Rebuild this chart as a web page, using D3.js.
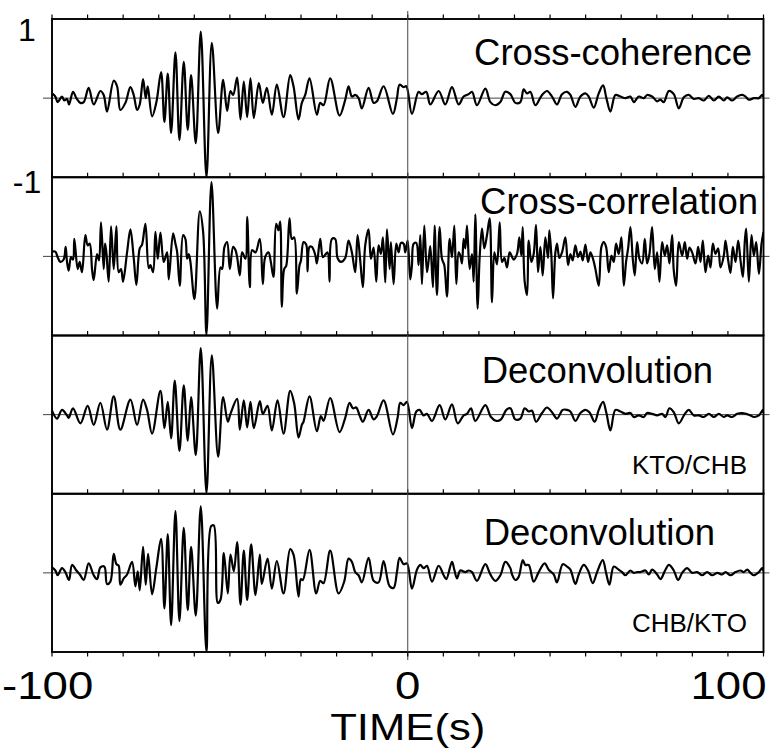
<!DOCTYPE html>
<html>
<head>
<meta charset="utf-8">
<script src="https://cdn.jsdelivr.net/npm/d3@7"></script>
<style>
  body { margin: 0; background: #fff; }
  svg text { font-family: "Liberation Sans", Arial, sans-serif; fill: #000; }
</style>
</head>
<body>
<div class="chart"></div>
<script>
// time (s), normalised amplitude
const crossCoherence = [
  [-100,0.06],[-99.06,0.02],[-98.41,-0.05],[-97.19,0.02],[-96.53,-0.03],[-95.78,-0.01],[-95.22,-0.08],[-94.09,0.08],[-93.15,0],[-92.03,-0.06],[-91.09,-0.05],[-89.69,0.13],[-88.28,-0.08],[-86.4,0.09],[-85.47,0.04],[-84.53,-0.17],[-82.65,0.22],[-81.71,0.15],[-80.78,-0.15],[-79.37,-0.06],[-77.96,0.14],[-77.03,0.04],[-76.09,-0.15],[-75.34,-0.08],[-74.4,0.24],[-73.65,0],[-73.09,0.15],[-71.87,-0.23],[-70.65,-0.05],[-69.34,0.33],[-68.4,-0.3],[-67.46,0.31],[-66.52,-0.44],[-65.3,0.58],[-64.18,-0.53],[-62.96,0.46],[-61.84,-0.4],[-60.9,0.29],[-59.59,-0.57],[-58.18,0.84],[-56.58,-1.0],[-55.08,0.7],[-53.3,-0.44],[-51.89,0.23],[-50.77,-0.16],[-49.83,0.09],[-49.08,0.04],[-47.96,0.26],[-47.02,-0.27],[-46.08,0.21],[-45.14,-0.24],[-44.21,0.25],[-43.27,-0.25],[-41.86,0.19],
  [-40.74,-0.06],[-39.61,0.13],[-38.2,-0.21],[-36.8,0.17],[-34.92,-0.24],[-33.05,0.29],[-32.11,0.15],[-30.7,-0.27],[-29.77,-0.06],[-28.83,0.04],[-27.61,0.25],[-25.55,-0.21],[-24.61,-0.06],[-23.67,-0.09],[-21.8,0.25],[-19.17,-0.22],[-17.57,-0.02],[-16.64,0.15],[-15.7,0.02],[-14.76,0.04],[-13.82,0],[-12.89,-0.13],[-11.01,0.13],[-9.6,-0.06],[-8.67,-0.04],[-6.79,0.15],[-4.17,-0.2],[-3.04,0],[-2.29,0.17],[-1.17,0.14],[-0.42,0.15],[1.18,-0.2],[3.05,0.08],[3.99,0.05],[5.21,0.08],[6.34,-0.08],[8.68,0.09],[10.56,-0.08],[12.43,0.14],[14.31,-0.08],[15.71,0.02],[17.12,0.05],[18.06,0.08],[19.46,-0.09],[21.81,0.12],[23.22,-0.05],[24.62,-0.09],[26.03,-0.05],[27.43,0.08],[28.84,0.05],
  [30.24,-0.06],[31.65,-0.05],[32.59,0.11],[33.52,0.06],[34.46,0.08],[35.87,-0.09],[37.74,0.04],[39.15,0.09],[40.56,0.02],[41.96,-0.08],[43.37,0.05],[44.78,0.08],[45.72,0.04],[47.12,-0.11],[48.53,0.02],[49.93,0.06],[50.87,0.02],[52.28,-0.12],[53.69,0.06],[54.9,0.16],[55.84,0],[56.97,-0.17],[58.37,0.04],[59.78,0.02],[61.19,0],[62.59,0.02],[63.53,-0.05],[64.94,0.02],[66.35,0],[67.28,0.04],[68.69,0.02],[70.1,-0.04],[71.03,-0.02],[71.97,-0.05],[73.38,0.09],[74.78,0.05],[76.19,-0.13],[77.6,0.01],[79,0.04],[80.41,-0.01],[81.82,0],[83.22,-0.03],[84.63,0.03],[86.04,-0.03],[87.44,0.02],[88.85,-0.03],[89.79,0.01],[91.19,-0.03],[92.6,0.02],[94.01,0.04],[94.95,0.02],[95.89,-0.02],[97.29,0],[98.7,0],[99.64,0.04],[100,0.01]
];

const crossCorrelation = [
  [-100,0.06],[-99.06,0.06],[-98.41,-0.01],[-97.66,-0.07],[-96.72,-0.04],[-96.16,0.12],[-95.78,-0.07],[-95.31,-0.18],[-94.66,-0.01],[-94.09,-0.04],[-93.72,0.22],[-92.78,-0.16],[-92.22,-0.07],[-91.56,-0.2],[-90.62,0.27],[-89.97,0.14],[-89.4,0.16],[-88.75,-0.16],[-88.28,-0.3],[-87.34,0.03],[-86.78,-0.05],[-86.22,0.43],[-85.47,-0.16],[-85.09,0.16],[-84.72,0.05],[-84.06,-0.32],[-83.4,0.38],[-82.65,-0.16],[-81.9,0.38],[-81.25,-0.2],[-80.59,-0.16],[-80.03,-0.32],[-78.9,0.05],[-77.96,0.34],[-77.03,-0.02],[-76.28,-0.36],[-75.34,0.1],[-74.68,0.15],[-73.74,0.41],[-72.81,-0.15],[-72.34,-0.11],[-71.59,-0.2],[-70.93,0.31],[-70.27,-0.03],[-69.52,0.3],[-68.59,-0.07],[-67.65,0.05],[-67.18,-0.29],[-65.96,0.29],[-65.3,0.16],[-64.84,0.06],[-64.09,-0.37],[-63.15,0.27],[-62.49,0.22],[-62.02,-0.03],[-61.55,0.03],[-61.09,-0.07],[-59.96,-0.54],[-58.46,0.57],[-57.52,0.31],[-56.58,-0.99],[-55.18,0.94],[-53.58,-0.66],[-52.65,-0.14],[-52.18,-0.16],[-51.52,0.12],[-50.77,0.18],[-50.02,-0.16],[-49.08,0.12],[-48.43,0.08],[-47.96,-0.01],[-47.21,-0.24],[-46.55,0.05],[-45.61,-0.03],[-45.14,0.5],[-44.39,-0.39],[-43.74,0.08],[-42.8,0.05],[-41.58,0.22],
  [-40.74,-0.35],[-40.08,-0.01],[-39.14,0.05],[-38.49,-0.07],[-37.74,-0.26],[-36.99,0.41],[-36.33,0.33],[-35.86,0.44],[-35.39,-0.64],[-34.74,-0.16],[-34.17,-0.12],[-33.24,0.48],[-32.58,0.22],[-31.92,0.24],[-31.17,-0.47],[-30.42,-0.11],[-30.05,-0.06],[-29.3,0.18],[-28.55,0.15],[-28.17,-0.19],[-27.61,0.12],[-26.95,0.12],[-26.01,0.02],[-25.55,-0.09],[-24.61,0.22],[-23.86,-0.01],[-23.2,0.02],[-22.54,0.05],[-21.98,-0.32],[-21.33,0.22],[-20.39,0.22],[-19.73,-0.02],[-18.79,-0.07],[-17.58,-0.02],[-16.64,0.2],[-15.7,0.05],[-14.76,-0.2],[-14.11,0.27],[-13.36,-0.05],[-12.61,-0.39],[-11.95,0.14],[-11.01,0.34],[-10.36,-0.03],[-9.6,0.11],[-8.85,-0.32],[-8.2,0.14],[-7.54,0.03],[-6.98,0.24],[-6.32,-0.33],[-5.85,0.34],[-5.1,-0.16],[-4.73,0.18],[-3.98,-0.35],[-3.23,0.16],[-2.57,0.05],[-1.92,0.17],[-1.17,0.16],[-0.7,0.05],[-0.04,0.2],[0.71,-0.29],[1.18,-0.11],[1.65,0.16],[2.4,0.17],[3.05,-0.11],[3.52,0.27],[3.99,-0.35],[4.65,0.39],[5.4,-0.2],[5.87,-0.05],[6.34,0.13],[7.09,-0.39],[7.55,0.39],[8.21,-0.49],[8.96,0.37],[9.62,-0.03],[10.27,-0.11],[11.02,-0.51],[11.77,0.22],[12.43,-0.01],[13.09,0.39],[13.65,-0.35],[14.31,0.05],[14.78,0.01],[15.24,-0.09],[15.71,0.22],[16.18,0.1],[16.65,0.39],[17.4,-0.16],[18.06,0.03],[18.53,-0.32],[18.99,0.53],[19.65,-0.66],[20.21,-0.01],[20.87,0.35],[21.53,0.1],[22.28,0.27],[23.03,0.48],[23.68,-0.58],[24.34,0.05],[25.09,-0.1],[25.84,0.43],[26.5,-0.07],[27.15,-0.02],[27.9,-0.14],[28.65,0.05],
  [29.77,-0.04],[30.71,0.03],[31.37,0.24],[31.93,0.01],[32.31,0.37],[32.87,-0.32],[33.53,-0.49],[34,0.2],[34.74,-0.07],[35.4,0.03],[36.06,0.4],[36.62,-0.2],[37.28,0.12],[37.93,-0.24],[38.68,0.24],[39.43,-0.02],[39.81,0.33],[40.37,0.01],[40.84,-0.53],[41.5,0.05],[41.96,0.16],[42.62,-0.02],[43.37,0.05],[44.31,0.24],[45.06,-0.11],[45.72,0.03],[46.37,-0.05],[47.12,0.14],[47.87,-0.01],[48.53,0.06],[49.19,-0.05],[49.93,0.15],[50.69,-0.07],[51.34,0.05],[52,-0.02],[52.75,-0.16],[53.69,-0.37],[54.44,0.12],[55.09,0.18],[55.75,0.12],[56.5,-0.2],[57.25,0.01],[57.91,-0.07],[58.56,0.16],[59.31,0.03],[60.06,0.24],[60.72,-0.37],[61.37,-0.07],[61.94,0.1],[62.59,0.37],[63.25,-0.03],[63.81,-0.24],[64.47,0.18],[65.13,-0.03],[65.88,-0.09],[66.63,0.22],[67.28,-0.09],[67.94,0.03],[68.69,0.37],[69.44,-0.16],[70.1,0.05],[70.75,-0.32],[71.5,0.18],[72.25,0.01],[72.91,0.14],[73.56,-0.09],[74.32,0.27],[74.78,-0.18],[75.44,-0.37],[76.19,0.18],[77.13,0.01],[77.88,0.18],[78.53,-0.03],[79.19,0.11],[79.94,0.05],[80.88,-0.09],[81.63,0.12],[82.29,-0.07],[82.94,0.2],[83.69,-0.2],[84.44,0.01],[85.1,-0.14],[85.76,0.16],[86.5,0.03],[87.26,0.1],[87.91,-0.14],[88.85,0.01],[89.32,0.2],[90.07,-0.05],[90.73,-0.21],[91.38,0.12],[92.13,-0.07],[92.88,0.2],[93.54,-0.05],[94.2,-0.26],[94.76,0.2],[95.13,0.35],[95.88,-0.32],[96.63,0.27],[97.29,0.01],[97.95,0.18],[98.7,-0.22],[99.45,0.16],[100,0.31]
];

const deconvKtoChb = [
  [-100,0.05],[-98.59,-0.05],[-97.19,0.06],[-95.78,-0.01],[-95.31,-0.04],[-94.09,0.08],[-92.03,-0.11],[-89.97,0.11],[-88.28,-0.13],[-86.4,0.15],[-84.53,-0.19],[-82.65,0.23],[-80.78,-0.19],[-77.96,0.19],[-76.09,-0.13],[-74.4,0.19],[-73.28,0.06],[-71.87,-0.24],[-69.53,0.3],[-68.4,-0.17],[-67.46,0.16],[-66.52,-0.3],[-65.49,0.43],[-64.18,-0.46],[-62.96,0.37],[-61.84,-0.33],[-60.9,0.22],[-59.59,-0.51],[-58.18,0.84],[-56.58,-0.99],[-55.08,0.75],[-53.3,-0.53],[-51.89,0.22],[-50.58,-0.09],[-49.83,0.01],[-47.96,0.2],[-47.21,-0.19],[-46.08,0.18],[-45.14,-0.16],[-44.21,0.16],[-43.27,-0.17],[-41.58,0.17],
  [-40.74,0.01],[-39.42,0.11],[-38.2,-0.2],[-36.61,0.18],[-34.92,-0.24],[-33.05,0.3],[-31.92,0.14],[-30.7,-0.29],[-29.77,-0.13],[-29.3,-0.09],[-27.61,0.23],[-25.55,-0.21],[-24.42,-0.02],[-23.67,-0.08],[-21.8,0.21],[-19.17,-0.22],[-17.57,-0.04],[-16.36,0.15],[-15.42,0.08],[-14.48,0.09],[-13.54,-0.01],[-12.61,-0.09],[-11.01,0.06],[-9.6,-0.06],[-8.67,-0.02],[-6.79,0.18],[-4.17,-0.25],[-2.85,-0.04],[-2.1,0.15],[-1.17,0.12],[-0.23,0.16],[1.18,-0.17],[2.4,0.04],[3.34,0.06],[4.46,-0.01],[5.4,0.01],[6.81,-0.08],[8.96,0.12],[10.56,-0.06],[12.43,0.13],[14.03,-0.11],[15.71,-0.01],[16.65,0.01],[17.78,0.08],[18.99,-0.08],[21.81,0.12],[23.4,-0.03],[24.9,-0.08],[26.22,-0.06],[27.71,0.06],[28.84,0.08],
  [30.24,-0.06],[31.65,-0.05],[32.87,0.08],[33.99,0.04],[34.93,0.05],[36.06,-0.09],[37.74,0.02],[39.15,0.09],[40.56,0.03],[41.96,-0.05],[43.56,0.06],[44.78,0.06],[45.72,0.04],[47.12,-0.08],[48.53,0.02],[49.93,0.06],[51.06,0.03],[52.56,-0.09],[53.69,0.06],[54.9,0.16],[55.84,0.02],[56.97,-0.2],[58.37,0.06],[59.78,0.04],[61.19,0.01],[62.59,0.02],[63.53,-0.03],[64.94,-0.01],[66.35,-0.03],[67.28,0.02],[68.69,0.01],[70.1,-0.01],[71.5,0.01],[72.44,-0.03],[73.56,0.08],[74.78,0.03],[76.19,-0.11],[77.88,0.01],[79,0.06],[80.41,-0.01],[81.82,-0.01],[83.22,-0.03],[84.63,0.01],[86.04,-0.03],[87.44,0.01],[88.85,-0.03],[89.79,-0.01],[91.19,-0.03],[92.6,0.01],[94.01,0.02],[95.13,0.01],[96.35,-0.01],[97.29,-0.03],[98.7,-0.01],[99.83,0.06],[100,0.02]
];

const deconvChbKto = [
  [-100,0.07],[-99.06,0.03],[-98.41,-0.03],[-97.19,0.06],[-96.25,0.01],[-95.22,-0.09],[-94.37,0.1],[-93.15,0.03],[-92.03,-0.03],[-91.09,-0.09],[-89.69,0.12],[-88.28,-0.03],[-87.34,-0.08],[-86.4,0.07],[-85.28,0.08],[-84.53,-0.14],[-83.59,-0.11],[-82.65,0.24],[-81.9,0.11],[-81.25,0.09],[-80.78,-0.15],[-79.84,-0.07],[-78.9,-0.02],[-77.49,0.14],[-76.56,-0.17],[-75.9,0.02],[-75.34,-0.22],[-74.4,0.33],[-73.65,-0.15],[-72.99,0.24],[-71.87,-0.27],[-70.65,0.07],[-69.34,0.43],[-68.4,-0.45],[-67.46,0.49],[-66.52,-0.66],[-65.3,0.78],[-64.18,-0.61],[-62.96,0.57],[-61.84,-0.47],[-60.9,0.33],[-59.59,-0.54],[-58.18,0.84],[-56.58,-1.0],[-55.27,0.59],[-54.52,0.6],[-53.39,-0.38],[-52.64,-0.34],[-51.7,0.25],[-50.58,-0.26],[-49.83,0.23],[-48.89,0.02],[-47.96,0.39],[-47.02,-0.4],[-46.08,0.28],[-45.14,-0.34],[-44.02,0.36],[-42.8,-0.28],[-41.58,0.23],
  [-41.02,-0.14],[-39.42,0.18],[-38.2,-0.2],[-36.8,0.15],[-34.92,-0.26],[-33.05,0.3],[-32.11,0.23],[-30.7,-0.3],[-30.05,-0.08],[-29.48,-0.09],[-27.61,0.29],[-25.73,-0.26],[-24.61,-0.1],[-23.67,-0.13],[-21.8,0.28],[-19.45,-0.26],[-17.86,-0.11],[-16.64,0.18],[-15.7,0.14],[-14.76,0.01],[-13.82,-0.03],[-12.89,-0.12],[-11.01,0.19],[-9.6,-0.1],[-8.2,-0.12],[-6.79,0.15],[-5.1,-0.17],[-3.98,-0.19],[-3.04,0.01],[-2.29,0.19],[-1.17,0.11],[-0.23,0.12],[1.18,-0.2],[2.59,0.04],[3.52,0.1],[4.46,0.06],[5.4,0.09],[6.81,-0.11],[8.68,0.09],[10.09,-0.03],[10.84,-0.08],[12.43,0.14],[13.09,0.04],[13.84,-0.07],[14.77,0.03],[16.18,0.01],[17.12,0.03],[18.06,0.01],[19.46,-0.1],[21.81,0.11],[23.22,-0.02],[24.62,-0.1],[26.03,-0.03],[27.43,0.14],[28.84,0.06],
  [29.31,-0.02],[30.24,-0.09],[31.18,-0.05],[32.31,0.16],[33.06,0.1],[33.99,0.1],[35.4,-0.11],[36.81,0.01],[38.49,0.12],[39.62,0.04],[41.03,-0.02],[41.96,-0.12],[43.56,0.11],[44.78,0.08],[45.72,0.04],[47.12,-0.14],[48.06,-0.02],[49.47,0.1],[50.69,0.03],[52,-0.13],[53.22,0.01],[54.81,0.16],[55.75,0],[56.69,-0.15],[57.91,0.08],[59.31,0.04],[60.25,0.01],[61.19,-0.03],[62.59,0.03],[63.53,0],[64.47,0.01],[65.41,0.01],[66.81,0.03],[67.75,-0.02],[68.69,0.04],[70.1,-0.02],[71.03,-0.08],[72.44,0.04],[73.38,0.1],[74.78,0.03],[76,-0.09],[77.13,0],[78.54,0.06],[79.94,0],[81.35,0.01],[82.75,-0.03],[84.16,0.01],[85.57,-0.03],[86.97,0],[88.38,-0.02],[89.32,0.01],[90.73,-0.03],[92.13,0.01],[93.54,0.03],[94.48,0.01],[95.41,0.04],[96.35,0],[97.29,-0.03],[98.7,0.01],[99.64,0.06],[100,0.02]
];

const panelTitles = ["Cross-coherence", "Cross-correlation", "Deconvolution", "Deconvolution"];
const stationPairs = ["", "", "KTO/CHB", "CHB/KTO"];
const xTickValues = [-100, 0, 100];
const yTickValues = [1, -1];
const xLabel = "TIME(s)";

const traces = [crossCoherence, crossCorrelation, deconvKtoChb, deconvChbKto];

// layout
const width = 770, height = 753;
const plotLeft = 52, plotRight = 763.5, plotTop = 19, plotBottom = 652;
const panelH = (plotBottom - plotTop) / traces.length;
// title anchor (right x, baseline below panel top), pair label anchor
const titlePos = [[752, 46], [758, 37], [713, 47], [715, 51]];
const pairPos = [747, 138];

const svg = d3.select(".chart").append("svg")
  .attr("width", width)
  .attr("height", height);

const x = d3.scaleLinear().domain([-100, 100]).range([plotLeft, plotRight]);
const minorTicks = d3.range(-100, 101, 10);

traces.forEach(function(trace, i) {
  const y0 = plotTop + i * panelH;
  const y = d3.scaleLinear().domain([-1, 1]).range([y0 + panelH, y0]);
  const g = svg.append("g");

  g.append("clipPath").attr("id", "clip" + i)
    .append("rect")
    .attr("x", plotLeft).attr("y", y0)
    .attr("width", plotRight - plotLeft).attr("height", panelH);

  // zero line, slightly past the frame
  g.append("line")
    .attr("x1", plotLeft - 9).attr("x2", plotRight + 6)
    .attr("y1", y(0)).attr("y2", y(0))
    .attr("stroke", "#444").attr("stroke-width", 1);

  const line = d3.line()
    .x(d => x(d[0]))
    .y(d => y(d[1]))
    .curve(d3.curveCatmullRom.alpha(0.5));

  g.append("path")
    .datum(trace)
    .attr("clip-path", "url(#clip" + i + ")")
    .attr("fill", "none")
    .attr("stroke", "#000")
    .attr("stroke-width", 2.2)
    .attr("stroke-linejoin", "round")
    .attr("d", line);

  // ticks pointing up off the top edge
  g.selectAll(".tick-top")
    .data(minorTicks)
    .enter()
    .append("line")
    .attr("x1", d => x(d)).attr("x2", d => x(d))
    .attr("y1", y0).attr("y2", y0 - 4.5)
    .attr("stroke", "#000").attr("stroke-width", 1.2);

  g.append("rect")
    .attr("x", plotLeft).attr("y", y0)
    .attr("width", plotRight - plotLeft).attr("height", panelH)
    .attr("fill", "none")
    .attr("stroke", "#000")
    .attr("stroke-width", 1.9);

  g.append("text")
    .attr("x", titlePos[i][0])
    .attr("y", y0 + titlePos[i][1])
    .attr("text-anchor", "end")
    .style("font-size", "36.5px")
    .text(panelTitles[i]);

  if (stationPairs[i]) {
    g.append("text")
      .attr("x", pairPos[0])
      .attr("y", y0 + pairPos[1])
      .attr("text-anchor", "end")
      .style("font-size", "26px")
      .text(stationPairs[i]);
  }

  if (i === 0) {
    g.selectAll(".ylab")
      .data(yTickValues)
      .enter()
      .append("text")
      .attr("x", 27)
      .attr("y", d => y(d) + (d > 0 ? 22 : 16))
      .attr("text-anchor", "middle")
      .style("font-size", "32px")
      .text(d => d);
  }
});

// vertical zero line through all panels
svg.append("line")
  .attr("x1", x(0)).attr("x2", x(0))
  .attr("y1", plotTop - 8).attr("y2", plotBottom + 8)
  .attr("stroke", "#444").attr("stroke-width", 1);

// bottom ticks pointing down
svg.selectAll(".tick-bottom")
  .data(minorTicks)
  .enter()
  .append("line")
  .attr("x1", d => x(d)).attr("x2", d => x(d))
  .attr("y1", plotBottom).attr("y2", plotBottom + 4.5)
  .attr("stroke", "#000").attr("stroke-width", 1.2);

// end labels are pulled in so they stay on the page, as in the original
const xLabAnchor = ["start", "middle", "end"];
const xLabShift = [-50, 0, 3];
svg.selectAll(".xlab")
  .data(xTickValues)
  .enter()
  .append("text")
  .attr("transform", (d, i) => "translate(" + (x(d) + xLabShift[i]) + "," + (plotBottom + 47) + ") scale(1.2,1)")
  .attr("text-anchor", (d, i) => xLabAnchor[i])
  .style("font-size", "38px")
  .text(d => d);

svg.append("text")
  .attr("transform", "translate(" + x(0) + "," + (plotBottom + 88) + ") scale(1.18,1)")
  .attr("text-anchor", "middle")
  .style("font-size", "37px")
  .text(xLabel);
</script>
</body>
</html>
